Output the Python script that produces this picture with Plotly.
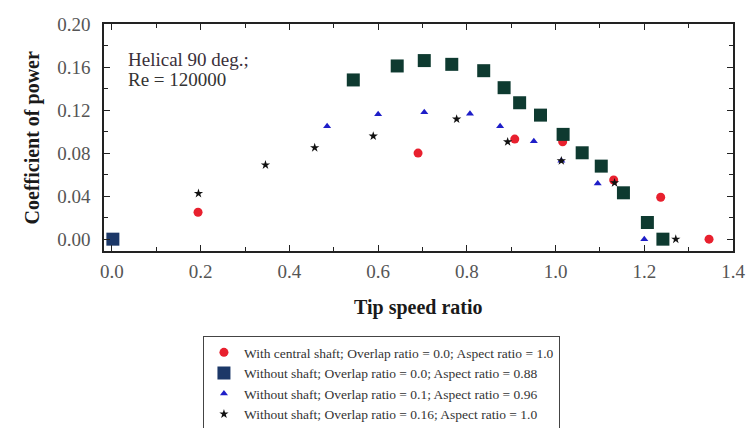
import plotly.graph_objects as go

# Data
shaft_x = [0.194, 0.690, 0.908, 1.016, 1.131, 1.237, 1.346]
shaft_y = [0.025, 0.080, 0.093, 0.0905, 0.055, 0.039, 0.000]

sq_x = [0.002, 0.544, 0.643, 0.704, 0.766, 0.838, 0.884, 0.919, 0.966, 1.017, 1.060, 1.103, 1.153, 1.207, 1.242]
sq_y = [0.000, 0.148, 0.161, 0.166, 0.1625, 0.1566, 0.1408, 0.1268, 0.1153, 0.0974, 0.0803, 0.0679, 0.0431, 0.0155, 0.000]

tri_x = [0.485, 0.600, 0.704, 0.807, 0.875, 0.951, 1.013, 1.095, 1.200]
tri_y = [0.105, 0.116, 0.118, 0.1166, 0.105, 0.0909, 0.0728, 0.0518, 0.000]

star_x = [0.195, 0.346, 0.457, 0.589, 0.777, 0.892, 1.013, 1.133, 1.271]
star_y = [0.0425, 0.069, 0.085, 0.0958, 0.1116, 0.0905, 0.0728, 0.0524, 0.000]

x_ticks = [0, 0.2, 0.4, 0.6, 0.8, 1.0, 1.2, 1.4]
x_ticktext = ["0.0", "0.2", "0.4", "0.6", "0.8", "1.0", "1.2", "1.4"]
y_ticks = [0, 0.04, 0.08, 0.12, 0.16, 0.20]
y_ticktext = ["0.00", "0.04", "0.08", "0.12", "0.16", "0.20"]

names = [
    "With central shaft; Overlap ratio = 0.0; Aspect ratio = 1.0",
    "Without shaft; Overlap ratio = 0.0; Aspect ratio = 0.88",
    "Without shaft; Overlap ratio = 0.1; Aspect ratio = 0.96",
    "Without shaft; Overlap ratio = 0.16; Aspect ratio = 1.0",
]

serif = "Liberation Serif, Times New Roman, serif"

fig = go.Figure()
sq_colors = ["#1c3868"] + ["#0e3a30"] * (len(sq_x) - 1)
fig.add_trace(go.Scatter(x=shaft_x, y=shaft_y, mode="markers", name=names[0],
                         marker=dict(symbol="circle", size=9, color="#e8202e")))
fig.add_trace(go.Scatter(x=sq_x, y=sq_y, mode="markers", name=names[1],
                         marker=dict(symbol="square", size=13, color=sq_colors)))
fig.add_trace(go.Scatter(x=tri_x, y=tri_y, mode="markers", name=names[2],
                         marker=dict(symbol="triangle-up", size=7, color="#1e1ec8")))
fig.add_trace(go.Scatter(x=star_x, y=star_y, mode="markers", name=names[3],
                         marker=dict(symbol="star", size=7, color="#111111")))

axis_common = dict(
    showline=True, linecolor="#222", linewidth=1.5, mirror="ticks",
    ticks="inside", ticklen=6, tickwidth=1.3, tickcolor="#222",
    showgrid=False, zeroline=False, automargin=False,
    ticklabeloverflow="allow",
    tickfont=dict(family=serif, size=19, color="#555"),
)

fig.update_xaxes(range=[-0.018, 1.4], tickvals=x_ticks, ticktext=x_ticktext,
                 minor=dict(dtick=0.1, tick0=0, ticks="inside", ticklen=4, tickcolor="#222"),
                 ticklabelstandoff=2,
                 **axis_common)
fig.update_yaxes(range=[-0.011, 0.2], tickvals=y_ticks, ticktext=y_ticktext,
                 minor=dict(dtick=0.02, tick0=0, ticks="inside", ticklen=4, tickcolor="#222"),
                 ticklabelstandoff=8,
                 **axis_common)

fig.add_annotation(x=-0.113, y=0.5, xref="paper", yref="paper", textangle=-90,
                   xanchor="center", yanchor="middle",
                   text="<b>Coefficient of power</b>", showarrow=False,
                   font=dict(family=serif, size=20, color="#1a1a1a"))
fig.add_annotation(x=0.5, y=-0.247, xref="paper", yref="paper",
                   xanchor="center", yanchor="middle",
                   text="<b>Tip speed ratio</b>", showarrow=False,
                   font=dict(family=serif, size=20, color="#1a1a1a"))

fig.add_annotation(x=0.035, y=0.8436, xref="paper", yref="paper", xanchor="left", yanchor="middle",
                   text="Helical 90 deg.;", showarrow=False,
                   font=dict(family=serif, size=19, color="#3a2f3a"))
fig.add_annotation(x=0.035, y=0.7577, xref="paper", yref="paper", xanchor="left", yanchor="middle",
                   text="Re = 120000", showarrow=False,
                   font=dict(family=serif, size=19, color="#333"))

fig.update_layout(
    width=748, height=428,
    margin=dict(l=104, r=15, t=24, b=177, autoexpand=False),
    paper_bgcolor="white", plot_bgcolor="white",
    legend=dict(x=0.157, y=-0.374, xanchor="left", yanchor="top",
                bordercolor="#444", borderwidth=1.2, bgcolor="white",
                font=dict(family=serif, size=13.5, color="#333"),
                itemsizing="trace", tracegroupgap=0),
)

fig.write_html("out.html", config={"displayModeBar": False},
               post_script="document.body.style.margin='0';document.body.style.overflow='hidden';")
